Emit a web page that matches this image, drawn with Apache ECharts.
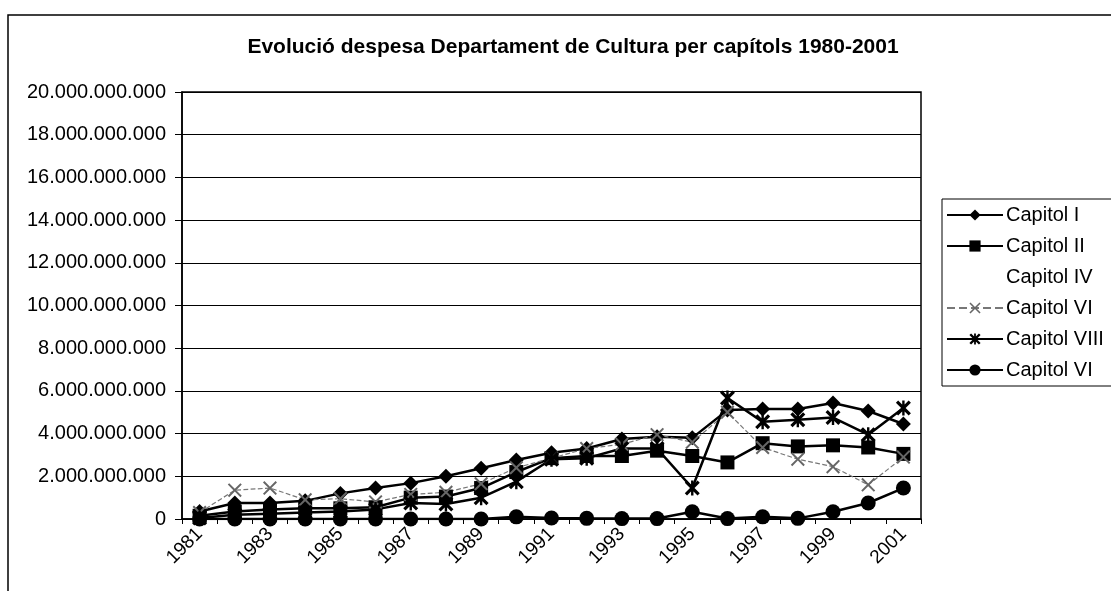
<!DOCTYPE html>
<html>
<head>
<meta charset="utf-8">
<script src="https://cdn.jsdelivr.net/npm/echarts@6/dist/echarts.min.js"></script>
<style>
  html, body { margin: 0; padding: 0; background: #fff; }
  #chart { width: 1111px; height: 591px; }
</style>
</head>
<body>
<div id="chart"></div>
<script>
// years on the x axis
const years = ['1981', '1982', '1983', '1984', '1985', '1986', '1987', '1988', '1989', '1990', '1991',
  '1992', '1993', '1994', '1995', '1996', '1997', '1998', '1999', '2000', '2001']

// values (pessetes)
const capitolI = [0.35e9, 0.75e9, 0.75e9, 0.85e9, 1.2e9, 1.45e9, 1.68e9, 2.0e9, 2.38e9, 2.76e9, 3.1e9,
  3.3e9, 3.75e9, 3.85e9, 3.8e9, 5.1e9, 5.15e9, 5.15e9, 5.43e9, 5.06e9, 4.45e9]
const capitolII = [0.15e9, 0.35e9, 0.45e9, 0.5e9, 0.5e9, 0.55e9, 1.0e9, 1.05e9, 1.45e9, 2.2e9, 2.85e9,
  2.95e9, 2.95e9, 3.2e9, 2.95e9, 2.65e9, 3.55e9, 3.4e9, 3.45e9, 3.35e9, 3.05e9]
const capitolIV = []
const capitolVI = [0.3e9, 1.35e9, 1.45e9, 0.9e9, 0.95e9, 0.8e9, 1.15e9, 1.25e9, 1.65e9, 2.4e9, 2.85e9,
  3.3e9, 3.5e9, 3.95e9, 3.6e9, 5.0e9, 3.35e9, 2.8e9, 2.45e9, 1.6e9, 2.9e9]
const capitolVIII = [0.05e9, 0.2e9, 0.25e9, 0.3e9, 0.35e9, 0.45e9, 0.75e9, 0.7e9, 1.0e9, 1.75e9, 2.8e9,
  2.85e9, 3.3e9, 3.3e9, 1.45e9, 5.67e9, 4.55e9, 4.65e9, 4.75e9, 3.95e9, 5.2e9]
const capitolVIb = [0, 0, 0, 0, 0, 0, 0, 0, 0, 0.1e9, 0.05e9,
  0.03e9, 0.02e9, 0.02e9, 0.34e9, 0.02e9, 0.1e9, 0.03e9, 0.34e9, 0.75e9, 1.45e9]

const FONT = 'Liberation Sans'
const xSymbol = 'path://M0,1L1,0L5,4L9,0L10,1L6,5L10,9L9,10L5,6L1,10L0,9L4,5Z'
const starSymbol = 'path://M0,1.5L1.5,0L5,3.5L8.5,0L10,1.5L6.5,5L10,8.5L8.5,10L5,6.5L1.5,10L0,8.5L3.5,5Z M4.2,0L5.8,0L5.8,10L4.2,10Z'

const dotFormat = (v) => String(v).replace(/\B(?=(\d{3})+(?!\d))/g, '.')

const chart = echarts.init(document.getElementById('chart'))

const lineSeries = (name, data, symbol, size, extra) => Object.assign({
  name: name,
  type: 'line',
  data: data,
  symbol: symbol,
  symbolSize: size,
  showSymbol: true,
  color: '#000',
  lineStyle: { color: '#000', width: 2.5 },
  itemStyle: { color: '#000' },
  animation: false
}, extra || {})

chart.setOption({
  animation: false,
  backgroundColor: '#fff',
  textStyle: { fontFamily: FONT, color: '#000' },
  graphic: [{
    type: 'rect',
    shape: { x: 8, y: 15, width: 1200, height: 700 },
    style: { fill: 'none', stroke: '#000', lineWidth: 1.5 },
    silent: true
  }],
  title: {
    text: 'Evolució despesa Departament de Cultura per capítols 1980-2001',
    left: 568,
    textAlign: 'center',
    top: 32,
    textStyle: { fontFamily: FONT, fontSize: 21, fontWeight: 'bold', color: '#000' }
  },
  legend: {
    orient: 'vertical',
    left: 942,
    top: 199,
    padding: [6, 40, 6, 4],
    itemWidth: 56,
    itemHeight: 14,
    itemGap: 11,
    borderColor: '#000',
    borderWidth: 1,
    textStyle: { fontFamily: FONT, fontSize: 20, color: '#000', padding: [0, 0, 0, -2] },
    data: ['Capitol I', 'Capitol II', 'Capitol IV', 'Capitol VI', 'Capitol VIII', 'Capitol VI ']
  },
  grid: {
    left: 182,
    top: 92,
    right: 190,
    bottom: 72,
    show: true,
    borderColor: '#000',
    borderWidth: 1.5
  },
  xAxis: {
    type: 'category',
    data: years,
    boundaryGap: true,
    axisLine: { lineStyle: { color: '#000', width: 1.5 } },
    axisTick: { show: true, interval: 0, inside: false, length: 5, lineStyle: { color: '#000' } },
    axisLabel: {
      interval: 1,
      rotate: 45,
      margin: 12,
      fontFamily: FONT,
      fontSize: 19,
      color: '#000'
    },
    splitLine: { show: false }
  },
  yAxis: {
    type: 'value',
    min: 0,
    max: 20000000000,
    interval: 2000000000,
    axisLine: { show: true, lineStyle: { color: '#000', width: 1.5 } },
    axisTick: { show: true, length: 7, lineStyle: { color: '#000' } },
    axisLabel: {
      margin: 16,
      fontFamily: FONT,
      fontSize: 20,
      color: '#000',
      formatter: dotFormat
    },
    splitLine: { show: true, lineStyle: { color: '#000', width: 1.2 } }
  },
  series: [
    lineSeries('Capitol I', capitolI, 'diamond', 15),
    lineSeries('Capitol II', capitolII, 'rect', 14),
    {
      name: 'Capitol IV',
      type: 'line',
      data: capitolIV,
      symbol: 'none',
      color: 'rgba(0,0,0,0)',
      lineStyle: { color: 'rgba(0,0,0,0)' },
      itemStyle: { color: 'rgba(0,0,0,0)' }
    },
    lineSeries('Capitol VI', capitolVI, xSymbol, 14, {
      color: '#666',
      lineStyle: { color: '#777', width: 1.2, type: 'dashed' },
      itemStyle: { color: '#666' }
    }),
    lineSeries('Capitol VIII', capitolVIII, starSymbol, 15),
    lineSeries('Capitol VI ', capitolVIb, 'circle', 15)
  ]
})
</script>
</body>
</html>
